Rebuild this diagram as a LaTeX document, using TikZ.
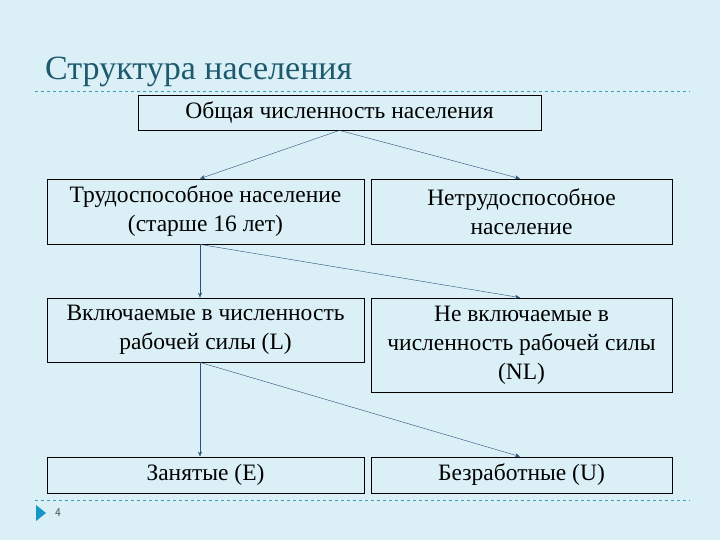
\documentclass[tikz,border=0pt]{standalone}
\usepackage{fontspec}
\setmainfont{Liberation Serif}
\usetikzlibrary{arrows.meta}
\definecolor{bgc}{RGB}{218,240,246}
\definecolor{titc}{RGB}{30,90,110}
\definecolor{arc}{RGB}{40,80,120}
\definecolor{sepc}{RGB}{60,160,180}
\definecolor{tric}{RGB}{20,150,200}
\begin{document}
\begin{tikzpicture}[x=1pt,y=-1pt,
  box/.style={draw=black,thick,inner sep=0pt,align=center,font=\fontsize{23.5}{29}\selectfont},
  arr/.style={draw=arc,-{Stealth[length=5pt,width=4pt]}},
  sep/.style={draw=sepc,dashed,thick}]
\fill[bgc] (0,0) rectangle (720,540);
\useasboundingbox (0,0) rectangle (720,540);
\node[anchor=base west,text=titc,font=\fontsize{34}{38}\selectfont,inner sep=0pt] (title) at (45,80) {Структура населения};
\draw[sep] (35,91) -- (690,91);
\draw[sep] (35,500) -- (690,500);
\node[box,minimum width=403,minimum height=35] (top) at (339.5,112.5) {Общая численность населения};
\node[box,minimum width=317,minimum height=65] (a) at (205.5,211.5) {Трудоспособное население\\(старше 16 лет)};
\node[box,minimum width=301,minimum height=65] (b) at (521.5,211.5) {Нетрудоспособное\\население};
\node[box,minimum width=317,minimum height=64] (c) at (205.5,330) {Включаемые в численность\\рабочей силы (L)};
\node[box,minimum width=301,minimum height=94] (d) at (521.5,345) {Не включаемые в\\численность рабочей силы\\(NL)};
\node[box,minimum width=317,minimum height=36] (e) at (205.5,475) {Занятые (E)};
\node[box,minimum width=301,minimum height=36] (f) at (521.5,475) {Безработные (U)};
\coordinate (t0) at (top.south);
\draw[arr] (t0) -- (a.north -| 200,0);
\draw[arr] (t0) -- (b.north -| 520,0);
\coordinate (a0) at (a.south -| 200,0);
\draw[arr] (a0) -- (c.north -| 200,0);
\draw[arr] (a0) -- (d.north -| 520,0);
\coordinate (c0) at (c.south -| 200,0);
\draw[arr] (c0) -- (e.north -| 200,0);
\draw[arr] (c0) -- (f.north -| 520,0);
\fill[tric] (36,505) -- (46,513) -- (36,521) -- cycle;
\node[font=\sffamily\fontsize{12}{14}\selectfont,text=black!70] (pg) at (58,513) {4};
\end{tikzpicture}
\end{document}
